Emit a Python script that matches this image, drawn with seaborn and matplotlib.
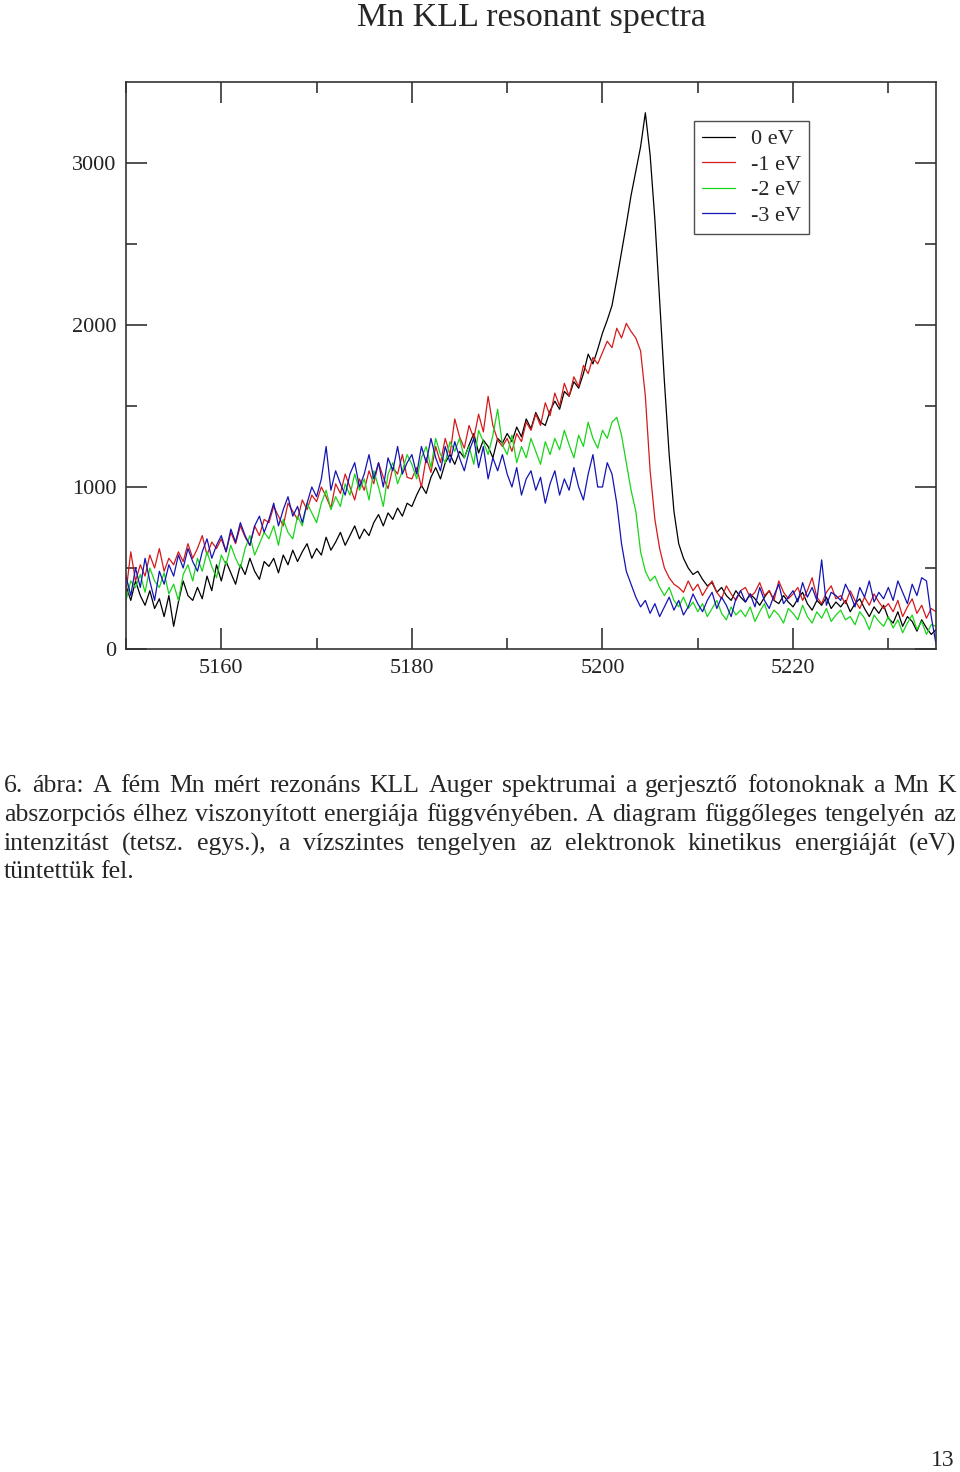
import numpy as np
import pandas as pd
import matplotlib
matplotlib.use("Agg")
import matplotlib.pyplot as plt
import seaborn as sns

# kinetic energy grid (eV), 0.5 eV steps
energy = np.arange(5150, 5235.01, 0.5)

# intensities, 10 points (5 eV) per row
int_0 = [
    390, 300, 420, 330, 270, 360, 250, 310, 200, 330,
    140, 290, 420, 330, 300, 380, 310, 450, 360, 520,
    420, 540, 470, 400, 520, 460, 560, 480, 430, 540,
    510, 560, 470, 580, 520, 610, 540, 600, 650, 560,
    620, 580, 690, 610, 660, 720, 640, 700, 760, 680,
    740, 700, 780, 830, 760, 840, 800, 870, 820, 900,
    880, 950, 1010, 960, 1060, 1120, 1050, 1150, 1200, 1140,
    1220, 1180, 1260, 1330, 1210, 1290, 1250, 1180, 1300, 1270,
    1330, 1280, 1370, 1310, 1420, 1360, 1460, 1400, 1380, 1470,
    1530, 1480, 1590, 1560, 1650, 1610, 1700, 1820, 1760, 1850,
    1950, 2030, 2120, 2280, 2450, 2620, 2800, 2950, 3100, 3310,
    3050, 2650, 2150, 1650, 1200, 850, 650, 560, 500, 460,
    480, 430, 390, 410, 350, 380, 330, 300, 360, 320,
    290, 340, 310, 270, 320, 360, 300, 280, 330, 290,
    260, 310, 350, 280, 240, 300, 270, 320, 250, 290,
    260, 300, 230, 280, 310, 250, 200, 260, 220, 270,
    190, 160, 230, 140, 200, 170, 110, 180, 130, 90,
    120,
]
int_m1 = [
    350, 600, 420, 520, 450, 580, 500, 620, 480, 560,
    520, 600, 540, 650, 560, 620, 700, 580, 660, 620,
    680, 600, 720, 650, 760, 690, 640, 760, 700, 800,
    780, 880, 820, 760, 900, 850, 800, 920, 860, 950,
    910, 1000, 940, 870, 1020, 960, 1080, 1000, 920, 1050,
    980, 1100, 1020, 1150, 1060, 990, 1120, 1080, 1200, 1060,
    1050, 1120, 1000, 1180, 1090, 1250, 1150, 1300, 1200, 1420,
    1310, 1240, 1380, 1300, 1450, 1340, 1560, 1380, 1290, 1250,
    1300, 1220, 1330, 1280, 1400, 1350, 1450, 1380, 1520, 1440,
    1580, 1500, 1640, 1560, 1680, 1620, 1750, 1700, 1800, 1760,
    1830, 1900, 1860, 1980, 1920, 2010, 1960, 1920, 1840, 1560,
    1100, 800, 620, 500, 440, 400, 380, 350, 420, 360,
    400, 330, 380, 420, 350, 310, 390, 340, 300, 360,
    380, 320, 350, 410, 330, 360, 300, 420, 350, 310,
    340, 380, 300, 360, 440, 320, 280, 350, 390, 310,
    330, 280, 360, 300, 250, 320, 270, 340, 290, 250,
    280, 230, 300, 200, 260, 310, 220, 270, 190, 250,
    230,
]
int_m2 = [
    300, 420, 380, 460, 350, 500, 420, 380, 470, 340,
    400, 300, 460, 520, 420, 560, 480, 600, 510, 440,
    580, 520, 640, 560, 500, 620, 700, 580, 650, 720,
    680, 760, 640, 800, 720, 680, 820, 760, 900, 840,
    780, 900, 980, 860, 940, 880, 1020, 950, 1080, 980,
    1050, 920, 1100, 1000, 880, 1080, 1150, 1020, 1100, 1200,
    1140, 1050, 1180, 1250, 1120, 1300, 1200, 1150, 1280, 1220,
    1300, 1180, 1250, 1140, 1350, 1280, 1200, 1320, 1480, 1260,
    1200, 1320, 1150, 1250, 1180, 1300, 1220, 1140, 1280, 1200,
    1300, 1230, 1350, 1260, 1180, 1320, 1250, 1400, 1300, 1240,
    1350, 1300, 1400, 1430, 1320, 1150, 980, 850, 600, 480,
    420, 450, 380, 330, 380, 300, 260, 320, 250, 290,
    230, 280, 200, 250, 300, 220, 180, 260, 210, 240,
    200, 260, 170, 230, 280, 190, 240, 210, 160, 250,
    220, 180, 270, 200, 160, 230, 190, 250, 170, 210,
    240, 180, 200, 150, 230, 190, 120, 210, 170, 140,
    200, 130, 180, 100, 160, 210, 120, 170, 90, 150,
    140,
]
int_m3 = [
    450, 330, 500, 380, 560, 420, 300, 480, 400, 520,
    450, 580, 500, 620, 540, 480, 600, 680, 560, 640,
    700, 600, 740, 660, 780, 700, 640, 760, 820, 720,
    800, 900, 760, 860, 940, 820, 880, 780, 900, 1000,
    940, 1050, 1250, 980, 1100, 1020, 950, 1080, 1150, 1000,
    1080, 1200, 1050, 1150, 1000, 1180, 1100, 1250, 1080, 1150,
    1200, 1080, 1250, 1150, 1300, 1180, 1100, 1250, 1150, 1280,
    1180, 1100, 1220, 1300, 1120, 1250, 1050, 1180, 1100, 1200,
    1080, 1000, 1120, 950, 1050, 1100, 980, 1060, 900, 1020,
    1100, 950, 1050, 980, 1120, 1000, 920, 1080, 1200, 1000,
    1000, 1150, 1080, 900, 650, 480, 400, 320, 260, 300,
    220, 280, 200, 260, 320, 240, 300, 210, 260, 340,
    280, 230, 300, 350, 250, 320, 270, 200, 310, 360,
    290, 340, 260, 380, 300, 250, 330, 400, 280, 320,
    360, 290, 410, 320, 380, 300, 550, 270, 350, 330,
    300, 400, 340, 260, 380, 320, 420, 290, 350, 310,
    380, 300, 420, 350, 280, 400, 330, 440, 420, 200,
    30,
]

labels = ["0 eV", "-1 eV", "-2 eV", "-3 eV"]
colors = ["#000000", "#d41a1a", "#1ad41a", "#1414b4"]
series = [int_0, int_m1, int_m2, int_m3]

sns.set_style("ticks")
plt.rcParams["font.family"] = ["Liberation Serif", "DejaVu Serif"]

fig = plt.figure(figsize=(9.6, 14.72), dpi=100)
ax = fig.add_axes([0.13125, 0.5591, 0.84375, 0.3852])

for lab, col, vals in zip(labels, colors, series):
    df = pd.DataFrame({"energy": energy, "intensity": vals})
    sns.lineplot(data=df, x="energy", y="intensity", color=col, label=lab,
                 linewidth=0.9, sort=False, errorbar=None, ax=ax)

ax.set_xlim(5150, 5235)
ax.set_ylim(0, 3500)
ax.set_xticks([5160, 5180, 5200, 5220])
ax.set_xticks([5150, 5170, 5190, 5210, 5230], minor=True)
ax.set_yticks([0, 1000, 2000, 3000])
ax.set_yticks([500, 1500, 2500], minor=True)
ax.set_xlabel("")
ax.set_ylabel("")
ax.tick_params(which="both", direction="in", top=True, right=True,
               labelsize=16, width=1.1, colors="#222222")
ax.tick_params(which="major", length=15, pad=7)
ax.tick_params(which="minor", length=8)
for sp in ax.spines.values():
    sp.set_linewidth(1.2)
    sp.set_color("#333333")

leg = ax.legend(loc="upper right", bbox_to_anchor=(0.843, 0.931),
                fontsize=16, frameon=True, fancybox=False, handlelength=1.5,
                handletextpad=0.7, labelspacing=0.22, borderpad=0.35,
                borderaxespad=0)
leg.get_frame().set_edgecolor("#222222")
leg.get_frame().set_linewidth(1.0)

fig.text(531 / 960, 1 - 18 / 1472, "Mn KLL resonant spectra",
         ha="center", va="center", fontsize=24.5)

# caption, justified word by word
caption = [
    "6. ábra: A fém Mn mért rezonáns KLL Auger spektrumai a gerjesztő fotonoknak a Mn K",
    "abszorpciós élhez viszonyított energiája függvényében. A diagram függőleges tengelyén az",
    "intenzitást (tetsz. egys.), a vízszintes tengelyen az elektronok kinetikus energiáját (eV)",
    "tüntettük fel.",
]
line_y = [786, 815, 844, 872]
x_left, x_right = 4, 956
renderer = fig.canvas.get_renderer()
for i, (line, yy) in enumerate(zip(caption, line_y)):
    words = line.split()
    texts = [fig.text(0, 1 - yy / 1472, w, ha="left", va="center", fontsize=18.5)
             for w in words]
    widths = [t.get_window_extent(renderer).width for t in texts]
    if i < len(caption) - 1:
        gap = (x_right - x_left - sum(widths)) / (len(words) - 1)
    else:
        gap = 5
    x = x_left
    for t, w in zip(texts, widths):
        t.set_x(x / 960)
        x += w + gap

fig.text(955 / 960, 1 - 1460 / 1472, "13", ha="right", va="center", fontsize=17)

fig.savefig("out.png", dpi=100)
